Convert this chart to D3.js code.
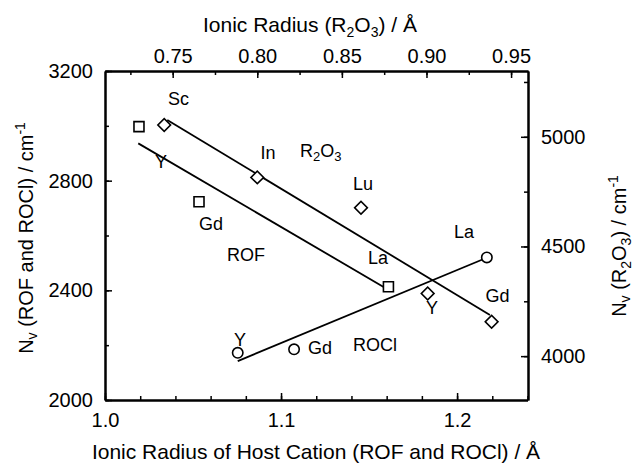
<!DOCTYPE html>
<html>
<head>
<meta charset="utf-8">
<script src="https://cdn.jsdelivr.net/npm/d3@7"></script>
<style>
  body { margin: 0; background: #fff; }
  svg { font-family: "Liberation Sans", Arial, sans-serif; }
</style>
</head>
<body>
<svg width="635" height="463"></svg>
<script>
// ROF (squares) and ROCl (circles) use bottom x / left y
var rofRadius = [1.0193, 1.0534, 1.161];
var rofNv = [2997, 2723, 2413];
var rofFit = [[1.0189, 2936], [1.1602, 2405]];

var roclRadius = [1.0754, 1.1074, 1.2169];
var roclNv = [2172, 2185, 2520];
var roclFit = [[1.0754, 2142], [1.2165, 2518]];

// R2O3 (diamonds) uses top x / right y
var oxRadius = [0.745, 0.80, 0.8613, 0.9007, 0.9385];
var oxNv = [5054, 4815, 4677, 4286, 4157];
var oxFit = [[0.7468, 5077], [0.9375, 4188]];

// point labels, given in the units of their own axes
var rofLabels = [['Y', 1.0318, 2846], ['Gd', 1.0602, 2620], ['ROF', 1.0801, 2507], ['La', 1.1551, 2496]];
var roclLabels = [['Y', 1.0767, 2197], ['Gd', 1.1222, 2168], ['ROCl', 1.1534, 2179], ['La', 1.204, 2591]];
var oxLabels = [['Sc', 0.7534, 5145], ['In', 0.8063, 4899], ['Lu', 0.8625, 4757], ['Y', 0.9033, 4192], ['Gd', 0.942, 4247]];

var bottomTicks = [1.0, 1.1, 1.2];
var topTicks = [0.75, 0.80, 0.85, 0.90, 0.95];
var leftTicks = [2000, 2400, 2800, 3200];
var rightTicks = [4000, 4500, 5000];

var LEFT = 105, RIGHT = 528, TOP = 71, BOTTOM = 400;
var svg = d3.select('svg');

var xBottom = d3.scaleLinear().domain([1.0, 1.24]).range([LEFT, 527.5]);
var xTop = d3.scaleLinear().domain([0.71, 0.96]).range([LEFT, RIGHT]);
var yLeft = d3.scaleLinear().domain([2000, 3200]).range([BOTTOM, TOP]);
var yRight = d3.scaleLinear().domain([3800, 5300]).range([BOTTOM, TOP]);

function styleAxis(g) {
  g.selectAll('path').attr('stroke', '#000').attr('stroke-width', 2);
  g.selectAll('line').attr('stroke', '#000').attr('stroke-width', 1.5);
  g.selectAll('text').attr('font-size', 20).attr('fill', '#000').attr('font-family', null);
}

//minor ticks first, no labels
function minor(axis, values, tr) {
  svg.append('g').attr('transform', tr)
    .call(axis.tickValues(values).tickSizeInner(-4).tickSizeOuter(0).tickFormat(''))
    .call(styleAxis);
}
minor(d3.axisBottom(xBottom), d3.range(1.0, 1.241, 0.02), 'translate(0,' + BOTTOM + ')');
minor(d3.axisTop(xTop), d3.range(0.725, 0.961, 0.025), 'translate(0,' + TOP + ')');
minor(d3.axisLeft(yLeft), d3.range(2000, 3201, 200), 'translate(' + LEFT + ',0)');
minor(d3.axisRight(yRight), d3.range(3750, 5301, 250).filter(function (d) { return d >= 3800; }), 'translate(' + RIGHT + ',0)');

svg.append('g').attr('transform', 'translate(0,' + BOTTOM + ')')
  .call(d3.axisBottom(xBottom).tickValues(bottomTicks).tickFormat(d3.format('.1f'))
    .tickSizeInner(-7).tickSizeOuter(0).tickPadding(13))
  .call(styleAxis);
svg.append('g').attr('transform', 'translate(0,' + TOP + ')')
  .call(d3.axisTop(xTop).tickValues(topTicks).tickFormat(d3.format('.2f'))
    .tickSizeInner(-7).tickSizeOuter(0).tickPadding(8))
  .call(styleAxis);
svg.append('g').attr('transform', 'translate(' + LEFT + ',0)')
  .call(d3.axisLeft(yLeft).tickValues(leftTicks).tickFormat(d3.format('d'))
    .tickSizeInner(-7).tickSizeOuter(0).tickPadding(12))
  .call(styleAxis);
svg.append('g').attr('transform', 'translate(' + RIGHT + ',0)')
  .call(d3.axisRight(yRight).tickValues(rightTicks).tickFormat(d3.format('d'))
    .tickSizeInner(-7).tickSizeOuter(0).tickPadding(13))
  .call(styleAxis);

// fit lines
var line = d3.line();
function fitLine(pts, xs, ys) {
  svg.append('path')
    .attr('d', line(pts.map(function (p) { return [xs(p[0]), ys(p[1])]; })))
    .attr('fill', 'none').attr('stroke', '#000').attr('stroke-width', 1.8);
}
fitLine(rofFit, xBottom, yLeft);
fitLine(roclFit, xBottom, yLeft);
fitLine(oxFit, xTop, yRight);

// markers
function markers(xsData, ysData, xs, ys, symbol, size) {
  svg.append('g').selectAll('path')
    .data(xsData)
    .enter()
    .append('path')
    .attr('transform', function (d, i) { return 'translate(' + xs(d) + ',' + ys(ysData[i]) + ')'; })
    .attr('d', d3.symbol().type(symbol).size(size))
    .attr('fill', '#fff').attr('stroke', '#000').attr('stroke-width', 1.6);
}
markers(rofRadius, rofNv, xBottom, yLeft, d3.symbolSquare, 100);
markers(roclRadius, roclNv, xBottom, yLeft, d3.symbolCircle, 85);
// diamonds as rotated squares (d3 diamond is too narrow)
svg.append('g').selectAll('rect')
  .data(oxRadius)
  .enter()
  .append('rect')
  .attr('x', -4.5).attr('y', -4.5).attr('width', 9).attr('height', 9)
  .attr('transform', function (d, i) { return 'translate(' + xTop(d) + ',' + yRight(oxNv[i]) + ') rotate(45)'; })
  .attr('fill', '#fff').attr('stroke', '#000').attr('stroke-width', 1.6);

// labels
function labels(list, xs, ys) {
  svg.append('g').selectAll('text')
    .data(list)
    .enter()
    .append('text')
    .attr('x', function (d) { return xs(d[1]); })
    .attr('y', function (d) { return ys(d[2]); })
    .attr('text-anchor', 'middle')
    .attr('font-size', 18)
    .text(function (d) { return d[0]; });
}
labels(rofLabels, xBottom, yLeft);
labels(roclLabels, xBottom, yLeft);
labels(oxLabels, xTop, yRight);

var r2o3 = svg.append('text').attr('x', xTop(0.8252)).attr('y', yRight(4908)).attr('font-size', 18);
r2o3.append('tspan').text('R');
r2o3.append('tspan').text('2').attr('font-size', 13).attr('dy', 4);
r2o3.append('tspan').text('O').attr('dy', -4);
r2o3.append('tspan').text('3').attr('font-size', 13).attr('dy', 4);

// axis titles
svg.append('text').attr('x', 316).attr('y', 459).attr('text-anchor', 'middle').attr('font-size', 21)
  .text('Ionic Radius of Host Cation (ROF and ROCl) / Å');

var tt = svg.append('text').attr('x', 310).attr('y', 32).attr('text-anchor', 'middle').attr('font-size', 21);
tt.append('tspan').text('Ionic Radius (R');
tt.append('tspan').text('2').attr('font-size', 14).attr('dy', 5);
tt.append('tspan').text('O').attr('dy', -5);
tt.append('tspan').text('3').attr('font-size', 14).attr('dy', 5);
tt.append('tspan').text(') / Å').attr('dy', -5);

var lt = svg.append('text').attr('transform', 'translate(33,238) rotate(-90)')
  .attr('text-anchor', 'middle').attr('font-size', 20);
lt.append('tspan').text('N');
lt.append('tspan').text('v').attr('font-size', 14).attr('dy', 4);
lt.append('tspan').text(' (ROF and ROCl) / cm').attr('dy', -4);
lt.append('tspan').text('-1').attr('font-size', 14).attr('dy', -8);

var rt = svg.append('text').attr('transform', 'translate(626,246) rotate(-90)')
  .attr('text-anchor', 'middle').attr('font-size', 20);
rt.append('tspan').text('N');
rt.append('tspan').text('v').attr('font-size', 14).attr('dy', 4);
rt.append('tspan').text(' (R').attr('dy', -4);
rt.append('tspan').text('2').attr('font-size', 14).attr('dy', 5);
rt.append('tspan').text('O').attr('dy', -5);
rt.append('tspan').text('3').attr('font-size', 14).attr('dy', 5);
rt.append('tspan').text(') / cm').attr('dy', -5);
rt.append('tspan').text('-1').attr('font-size', 14).attr('dy', -8);
</script>
</body>
</html>
